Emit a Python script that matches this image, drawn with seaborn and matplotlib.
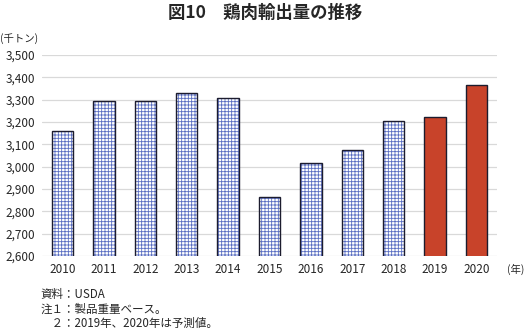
import matplotlib
matplotlib.use("Agg")
import matplotlib.pyplot as plt
import seaborn as sns
import pandas as pd

years = ["2010", "2011", "2012", "2013", "2014", "2015", "2016", "2017", "2018", "2019", "2020"]
exports = [3160, 3294, 3295, 3330, 3307, 2864, 3016, 3075, 3205, 3222, 3366]
forecast = [False] * 9 + [True] * 2
y_ticks = list(range(2600, 3501, 100))

sns.set_theme(style="white")
plt.rcParams["font.family"] = ["Noto Sans CJK JP", "DejaVu Sans"]
plt.rcParams["hatch.linewidth"] = 0.6

df = pd.DataFrame({"year": years, "value": exports, "forecast": forecast})

fig = plt.figure(figsize=(5.3, 3.34), dpi=100)
ax = fig.add_axes([0.079, 0.234, 0.859, 0.601])

for y in y_ticks:
    ax.axhline(y, color="#D9D9D9", lw=0.9, zorder=0)

# fill layer: hatched grid for actuals, solid red for forecasts
sns.barplot(data=df, x="year", y="value", ax=ax, width=0.52, color="white",
            errorbar=None, zorder=2)
for patch, fc in zip(ax.patches, forecast):
    if fc:
        patch.set_facecolor("#C8432A")
        patch.set_edgecolor("#C8432A")
        patch.set_hatch(None)
    else:
        patch.set_facecolor("white")
        patch.set_edgecolor("#5A6EC2")
        patch.set_hatch("+++++")
    patch.set_linewidth(0)
n_fill = len(ax.patches)

# outline layer
sns.barplot(data=df, x="year", y="value", ax=ax, width=0.52, fill=False,
            errorbar=None, zorder=3)
for patch in ax.patches[n_fill:]:
    patch.set_edgecolor("#1C1C2E")
    patch.set_linewidth(1.0)

ax.set_ylim(2600, 3500)
ax.set_yticks(y_ticks)
ax.set_yticklabels([f"{v:,}" for v in y_ticks], fontsize=8.5)
ax.set_xlim(-0.5, len(years) - 0.5)
ax.tick_params(axis="x", labelsize=8.5, length=0, pad=5)
ax.tick_params(axis="y", length=0, pad=5)
ax.set_xlabel("")
ax.set_ylabel("")
for s in ax.spines.values():
    s.set_visible(False)

fig.text(0.5, 0.962, "図10　鶏肉輸出量の推移", ha="center", va="center",
         fontsize=12.5, fontweight="bold")
fig.text(0.0, 0.886, "(千トン)", ha="left", va="center", fontsize=7.5)
fig.text(0.957, 0.192, "(年)", ha="left", va="center", fontsize=7.5)
fig.text(0.076, 0.117, "資料：USDA", ha="left", va="center", fontsize=8.3)
fig.text(0.076, 0.075, "注１：製品重量ベース。", ha="left", va="center", fontsize=8.3)
fig.text(0.076, 0.033, "　２：2019年、2020年は予測値。", ha="left", va="center", fontsize=8.3)

fig.savefig("out.png", dpi=100)
